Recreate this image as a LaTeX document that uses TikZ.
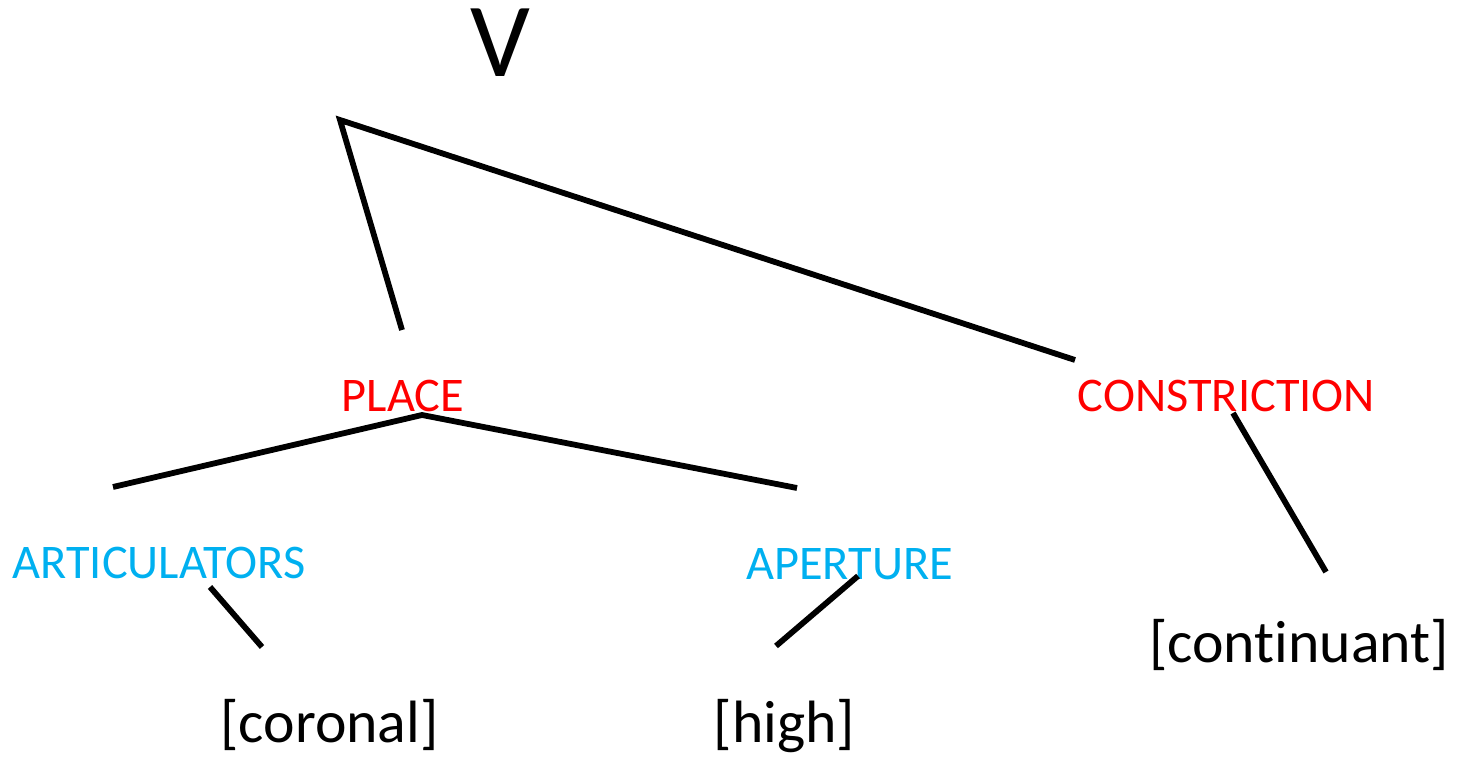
\documentclass[tikz,border=0pt]{standalone}
\usepackage{fontspec}
\setmainfont[RawFeature={-liga;-dlig}]{Carlito}
\definecolor{featred}{HTML}{FF0000}
\definecolor{featblue}{HTML}{00B0F0}

\begin{document}
\begin{tikzpicture}[x=0.02cm,y=-0.02cm,
  branch/.style={black,line width=3.3pt},
  root/.style={anchor=base,inner sep=0pt,font=\fontsize{60}{66}\selectfont},
  classnode/.style={anchor=base,inner sep=0pt,text=featred,font=\fontsize{27.5}{32}\selectfont},
  subnode/.style={anchor=base,inner sep=0pt,text=featblue,font=\fontsize{27.5}{32}\selectfont},
  featnode/.style={anchor=base,inner sep=0pt,font=\fontsize{34}{40}\selectfont}]
\useasboundingbox (0,0) rectangle (1467,759);
\node[root] (v) at (500.5,77) {V};
\node[classnode] (place) at (403,412) {PLACE};
\node[classnode] (constr) at (1226.5,412) {CONSTRICTION};
\node[subnode] (artic) at (159,579) {ARTICULATORS};
\node[subnode] (apert) at (849.5,580) {APERTURE};
\node[featnode] (cont) at (1299,663) {[continuant]};
\node[featnode] (coron) at (329.5,742) {[coronal]};
\node[featnode] (high) at (784.5,742) {[high]};
% free ends of the branches
\coordinate (v-top) at (340,120);
\coordinate (place-up) at (402,330);
\coordinate (constr-up) at (1075,360);
\coordinate (place-down) at (422,415);
\coordinate (artic-up) at (113,487);
\coordinate (apert-up) at (797,488);
\coordinate (artic-down) at (210,587);
\coordinate (coron-up) at (262,647);
\coordinate (apert-down) at (858,576);
\coordinate (high-up) at (776,646);
\coordinate (constr-down) at (1233,413);
\coordinate (cont-up) at (1326,572);
\draw[branch] (place-up) -- (v-top) -- (constr-up);
\draw[branch] (artic-up) -- (place-down) -- (apert-up);
\draw[branch] (artic-down) -- (coron-up);
\draw[branch] (apert-down) -- (high-up);
\draw[branch] (constr-down) -- (cont-up);
\end{tikzpicture}
\end{document}
